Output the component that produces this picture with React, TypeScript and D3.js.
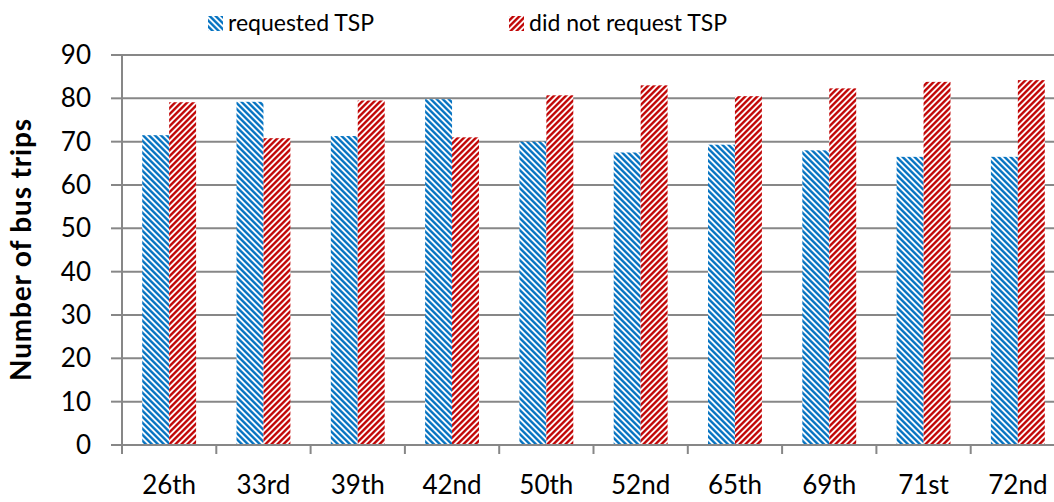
import React, { useRef, useEffect } from "react";
import * as d3 from "d3";

const categories = ["26th", "33rd", "39th", "42nd", "50th", "52nd", "65th", "69th", "71st", "72nd"];
const requested = [71.5, 79.2, 71.3, 79.8, 70.0, 67.5, 69.3, 68.0, 66.5, 66.5];
const notRequested = [79.1, 70.8, 79.5, 71.0, 80.7, 83.0, 80.5, 82.3, 83.8, 84.2];
const seriesNames = ["requested TSP", "did not request TSP"];
const yTicks = [0, 10, 20, 30, 40, 50, 60, 70, 80, 90];

export default function App() {
  const ref = useRef<SVGSVGElement>(null);

  useEffect(() => {
    const width = 1054;
    const height = 502;
    const left = 122;
    const right = 1065;
    const top = 55;
    const bottom = 445;
    const font = "Lato, 'Open Sans', sans-serif";
    const grid = "#878787";

    const svg = d3.select(ref.current);
    svg.selectAll("*").remove();
    svg.attr("width", width).attr("height", height);

    // striped fills (Excel style wide diagonals)
    const defs = svg.append("defs");
    const pats = [
      { id: "pat-blue", color: "#0070C0", dir: "down" },
      { id: "pat-red", color: "#C00000", dir: "up" },
    ];
    const period = 6 / Math.SQRT2;
    pats.forEach(p => {
      const pat = defs.append("pattern")
        .attr("id", p.id)
        .attr("patternUnits", "userSpaceOnUse")
        .attr("width", period)
        .attr("height", 10)
        .attr("patternTransform", p.dir === "down" ? "rotate(-45)" : "rotate(45)");
      pat.append("rect").attr("width", period).attr("height", 10).attr("fill", "#fff");
      pat.append("rect").attr("width", period * 0.55).attr("height", 10).attr("fill", p.color);
    });

    const x = d3.scaleBand<string>()
      .domain(categories)
      .range([left, right])
      .paddingInner(0.75 / 1.75)
      .paddingOuter(0.75 / 3.5);
    const step = x.step();
    const x1 = d3.scaleBand<number>().domain([0, 1]).range([0, x.bandwidth()]);

    const y = d3.scaleLinear().domain([0, 90]).range([bottom, top]);

    // gridlines
    svg.append("g").selectAll("line")
      .data(yTicks.slice(1))
      .enter().append("line")
      .attr("x1", left).attr("x2", right)
      .attr("y1", d => y(d)).attr("y2", d => y(d))
      .attr("stroke", grid).attr("stroke-width", 2);

    // bars
    const series = [requested, notRequested];
    series.forEach((vals, si) => {
      svg.append("g").selectAll("rect")
        .data(vals)
        .enter().append("rect")
        .attr("x", (d, i) => (x(categories[i]) as number) + (x1(si) as number))
        .attr("y", d => y(d))
        .attr("width", x1.bandwidth())
        .attr("height", d => bottom - y(d))
        .attr("fill", `url(#${pats[si].id})`);
    });

    // y axis
    const ya = svg.append("g");
    ya.append("line").attr("x1", left).attr("x2", left).attr("y1", top).attr("y2", bottom)
      .attr("stroke", grid).attr("stroke-width", 2);
    ya.selectAll("line.t").data(yTicks).enter().append("line")
      .attr("class", "t")
      .attr("x1", left - 11).attr("x2", left)
      .attr("y1", d => y(d)).attr("y2", d => y(d))
      .attr("stroke", grid).attr("stroke-width", 2);
    ya.selectAll("text").data(yTicks).enter().append("text")
      .attr("x", 91).attr("y", d => y(d) + 9)
      .attr("text-anchor", "end")
      .attr("font-family", font).attr("font-size", 26).attr("fill", "#000")
      .text(d => d);

    // x axis
    const xa = svg.append("g");
    xa.append("line").attr("x1", left).attr("x2", right).attr("y1", bottom).attr("y2", bottom)
      .attr("stroke", grid).attr("stroke-width", 2);
    xa.selectAll("line.t").data(d3.range(categories.length + 1)).enter().append("line")
      .attr("class", "t")
      .attr("x1", i => left + i * step).attr("x2", i => left + i * step)
      .attr("y1", bottom).attr("y2", bottom + 9)
      .attr("stroke", grid).attr("stroke-width", 2);
    xa.selectAll("text").data(categories).enter().append("text")
      .attr("x", d => (x(d) as number) + x.bandwidth() / 2)
      .attr("y", 494)
      .attr("text-anchor", "middle")
      .attr("font-family", font).attr("font-size", 26).attr("fill", "#000")
      .text(d => d);

    // y label
    svg.append("text")
      .attr("transform", `translate(31,250) rotate(-90)`)
      .attr("text-anchor", "middle")
      .attr("font-family", font).attr("font-size", 28).attr("font-weight", "bold")
      .attr("fill", "#000")
      .attr("textLength", 262)
      .text("Number of bus trips");

    // legend
    const legendX = [208, 509];
    seriesNames.forEach((name, i) => {
      svg.append("rect")
        .attr("x", legendX[i]).attr("y", 16).attr("width", 15).attr("height", 15)
        .attr("fill", `url(#${pats[i].id})`);
      svg.append("text")
        .attr("x", legendX[i] + 20).attr("y", 31)
        .attr("font-family", font).attr("font-size", 23).attr("fill", "#000")
        .text(name);
    });
  }, []);

  return (
    <svg ref={ref} style={{ position: "absolute", left: 0, top: 0 }}></svg>
  );
}
